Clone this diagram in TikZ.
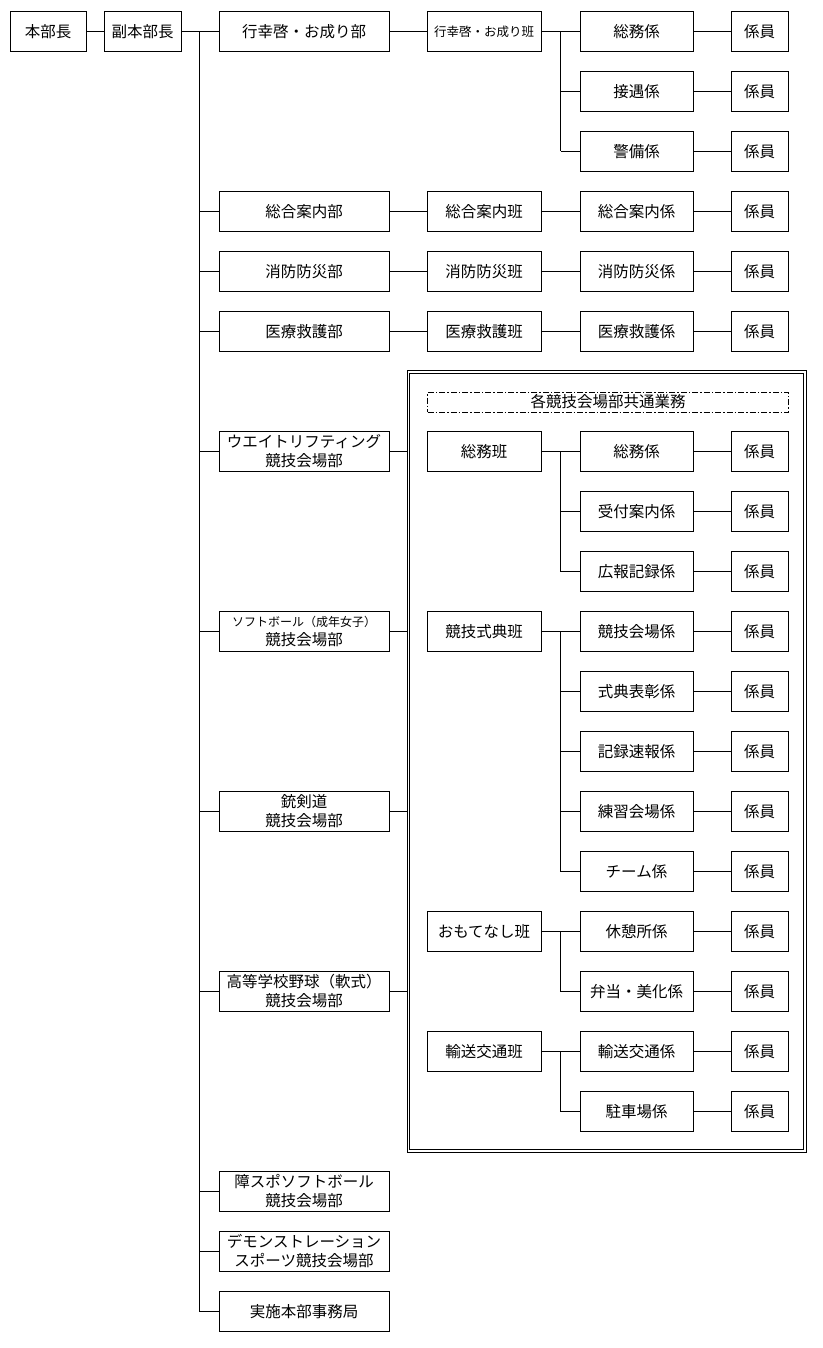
\documentclass[tikz,border=0pt]{standalone}
\usepackage{fontspec}
\setmainfont{Noto Sans CJK JP}
\begin{document}
\begin{tikzpicture}[x=1pt,y=-1pt,line width=0.9pt,
  box/.style={draw,inner sep=0pt,align=center,anchor=center,minimum height=40pt,
    font=\fontsize{15.5}{19}\selectfont},
  lvA/.style={box,minimum width=170pt},
  lvB/.style={box,minimum width=114pt},
  lvC/.style={box,minimum width=113pt},
  lvD/.style={box,minimum width=57pt},
  smalltext/.style={font=\fontsize{12.5}{19}\selectfont},
  dashbox/.style={draw,inner sep=0pt,minimum width=361pt,minimum height=20pt,
    dash pattern=on 6pt off 2pt on 1.5pt off 2pt,font=\fontsize{15.5}{19}\selectfont}]
\useasboundingbox (0,0) rectangle (822,1348);

% top
\node[box,minimum width=76pt] (hb) at (48,31.5) {本部長};
\node[box,minimum width=77pt] (fk) at (142.5,31.5) {副本部長};
\draw (hb) -- (fk);

% trunk
\coordinate (t0) at (199.5,31.5);
\coordinate (t1) at (199.5,1311.5);
\coordinate (br) at (560.5,0);
\coordinate (fl) at (407,0);

% level A
\foreach \r/\y/\t in {0/31.5/行幸啓・お成り部,3/211.5/総合案内部,4/271.5/消防防災部,5/331.5/医療救護部,
  7/451.5/{ウエイトリフティング\\競技会場部},
  10/631.5/{{\fontsize{12}{19}\selectfont ソフトボール（成年女子）}\\競技会場部},
  13/811.5/{銃剣道\\競技会場部},16/991.5/{高等学校野球（軟式）\\競技会場部},
  20/1191.5/{障スポソフトボール\\競技会場部},21/1251.5/{デモンストレーション\\スポーツ競技会場部},
  22/1311.5/実施本部事務局}{
  \node[lvA] (a\r) at (304,\y) {\t};
  \draw (a\r.west -| t0) -- (a\r.west);
}
\draw (fk) -- (a0);
\draw (t0) -- (t1);

% level B
\node[lvB,smalltext] (b0) at (484,31.5) {行幸啓・お成り班};
\foreach \r/\t in {3/総合案内班,4/消防防災班,5/医療救護班,7/総務班,10/競技式典班,15/おもてなし班,17/輸送交通班}{
  \node[lvB] (b\r) at (484,31.5+60*\r) {\t};
}
\foreach \r in {0,3,4,5}{\draw (a\r) -- (b\r);}

% level C and D
\foreach \r/\t in {0/総務係,1/接遇係,2/警備係,3/総合案内係,4/消防防災係,5/医療救護係,
  7/総務係,8/受付案内係,9/広報記録係,10/競技会場係,11/式典表彰係,12/記録速報係,
  13/練習会場係,14/チーム係,15/休憩所係,16/弁当・美化係,17/輸送交通係,18/駐車場係}{
  \node[lvC] (c\r) at (636.5,31.5+60*\r) {\t};
  \node[lvD] (d\r) at (759.5,31.5+60*\r) {係員};
  \draw (c\r) -- (d\r);
}
\foreach \r in {0,3,4,5,7,10,15,17}{\draw (b\r) -- (c\r);}
% branches
\foreach \s/\e in {0/2,7/9,10/14,15/16,17/18}{
  \draw (c\s.west -| br) -- (c\e.west -| br);
}
\foreach \r in {1,2,8,9,11,12,13,14,16,18}{
  \draw (c\r.west -| br) -- (c\r.west);
}

% frame
\draw (407,370.5) rectangle (806,1152);
\draw (409.5,373) rectangle (803.5,1149.5);
\node[dashbox] (cm) at (608,402) {各競技会場部共通業務};
\foreach \r in {7,10,13,16}{\draw (a\r.east) -- (a\r.east -| fl);}
\end{tikzpicture}
\end{document}
